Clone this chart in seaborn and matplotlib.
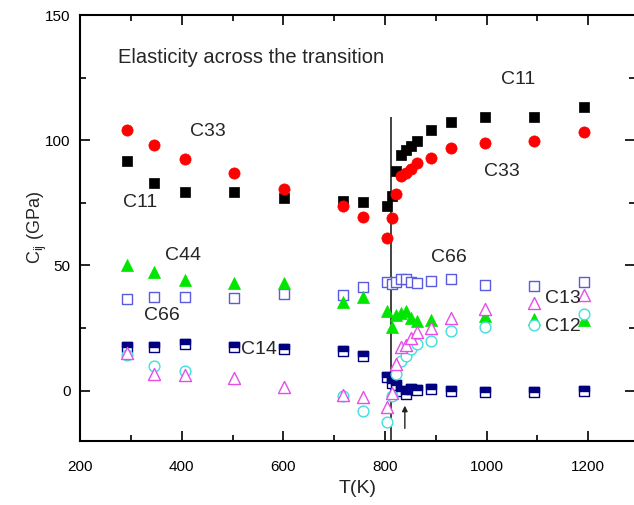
import numpy as np
import matplotlib
matplotlib.use("Agg")
import matplotlib.pyplot as plt
from matplotlib.markers import MarkerStyle
from matplotlib.ticker import MultipleLocator
import seaborn as sns

nan = np.nan

# temperatures (K) of the computed points
temps = [293, 345, 406, 503, 601, 717, 756, 804, 813, 822, 832, 842,
         852, 862, 891, 930, 997, 1093, 1192]

# elastic constants (GPa)
c11 = [91.8, 82.9, 79.5, 79.5, 77.0, 75.8, 75.3, 73.8, 77.8, 87.9, 93.9, 96.2,
       97.6, 99.6, 104.0, 107.4, 109.3, 109.3, 113.4]
c33 = [103.9, 98.2, 92.6, 86.9, 80.6, 73.9, 69.3, 61.1, 68.8, 78.5, 85.8, 87.1,
       88.7, 90.9, 92.7, 96.9, 99.0, 99.5, 103.4]
c44 = [50.3, 47.2, 44.0, 42.9, 42.9, 35.4, 37.5, 31.6, 25.5, 30.2, 31.0, 31.6,
       29.0, 27.9, 28.3, nan, 29.9, 28.6, 28.3]
c66 = [36.7, 37.5, 37.5, 37.0, 38.6, 38.0, 41.4, 43.4, 42.7, 43.4, 44.7, 44.7,
       43.4, 43.0, 43.6, 44.6, 42.0, 41.6, 43.2]
c14 = [17.4, 17.6, 18.5, 17.6, 16.6, 15.7, 13.7, 5.3, 3.1, 2.1, 0.0, -1.2,
       0.8, 0.1, 0.6, 0.0, -0.5, -0.5, 0.0]
c13 = [15.0, 6.8, 6.4, 5.1, 1.3, -1.9, -2.7, -6.7, -1.1, 10.6, 17.4, 18.4,
       21.0, 23.3, 24.9, 29.0, 32.4, 35.0, 38.3]
c12 = [14.4, 9.7, 8.0, nan, nan, -2.0, -8.3, -12.6, -2.3, 6.7, 11.7, 14.0,
       16.6, 18.6, 19.7, 23.7, 25.6, 26.3, 30.7]

# transition temperature and the arrowed point
t_trans = 812.6
t_arrow = 839

sns.set_theme(style="ticks")
plt.rcParams["font.family"] = ["Liberation Sans", "DejaVu Sans"]
plt.rcParams["mathtext.default"] = "regular"

fig = plt.figure(figsize=(6.34, 5.05), dpi=100)
ax = fig.add_axes([80.2 / 634, 64.3 / 505, (635 - 80.2) / 634, (440.7 - 15) / 505])

# filled markers
sns.scatterplot(x=temps, y=c11, marker="s", s=58, color="black", edgecolor="black",
                linewidth=0.5, ax=ax, zorder=3)
sns.scatterplot(x=temps, y=c33, marker="o", s=65, color="#ff0000", edgecolor="#ff0000",
                linewidth=0.5, ax=ax, zorder=3)
# open markers (white fill)
sns.scatterplot(x=temps, y=c66, marker="s", s=45, color="white", edgecolor="#5b5be0",
                linewidth=1.0, ax=ax, zorder=3)
sns.scatterplot(x=temps, y=c44, marker="^", s=75, color="#00e600", edgecolor="#00e600",
                linewidth=0.5, ax=ax, zorder=3)
sns.scatterplot(x=temps, y=c14, marker="s", s=45, color="white", edgecolor="#000080",
                linewidth=1.0, ax=ax, zorder=3)
sns.scatterplot(x=temps, y=c14, marker=MarkerStyle("s", fillstyle="top"), s=45,
                color="#000080", edgecolor="#000080", linewidth=1.0, ax=ax, zorder=3)
sns.scatterplot(x=temps, y=c12, marker="o", s=60, color="white", edgecolor="#40dede",
                linewidth=1.0, ax=ax, zorder=3)
sns.scatterplot(x=temps, y=c13, marker="^", s=75, color="white", edgecolor="#e84de8",
                linewidth=1.0, ax=ax, zorder=3)

ax.vlines(t_trans, -20, 109.3, color="#222222", linewidth=1.2, zorder=2)
ax.annotate("", xy=(t_arrow, -4.9), xytext=(t_arrow, -16.2),
            arrowprops=dict(arrowstyle="-|>", color="#222222", lw=1.0, mutation_scale=8))

# labels in the plot
ax.text(274.6, 132.9, "Elasticity across the transition", fontsize=14.5, ha="left", va="center")
ax.text(452, 103.5, "C33", fontsize=14, ha="center", va="center")
ax.text(318, 75.1, "C11", fontsize=14, ha="center", va="center")
ax.text(403, 53.9, "C44", fontsize=14, ha="center", va="center")
ax.text(360, 29.9, "C66", fontsize=14, ha="center", va="center")
ax.text(551, 16.6, "C14", fontsize=14, ha="center", va="center")
ax.text(1062, 124.1, "C11", fontsize=14, ha="center", va="center")
ax.text(1030, 87.5, "C33", fontsize=14, ha="center", va="center")
ax.text(925, 53.0, "C66", fontsize=14, ha="center", va="center")
ax.text(1150, 36.7, "C13", fontsize=14, ha="center", va="center")
ax.text(1151, 25.7, "C12", fontsize=14, ha="center", va="center")

ax.set_xlim(200, 1292)
ax.set_ylim(-20, 150)
ax.xaxis.set_major_locator(MultipleLocator(200))
ax.xaxis.set_minor_locator(MultipleLocator(100))
ax.yaxis.set_major_locator(MultipleLocator(50))
ax.yaxis.set_minor_locator(MultipleLocator(25))
ax.tick_params(which="both", direction="in", top=True, right=True, width=1.2,
               labelsize=11, colors="black")
ax.tick_params(which="major", length=7)
ax.tick_params(which="minor", length=4)
ax.tick_params(axis="x", which="major", pad=14)
ax.tick_params(axis="y", which="major", pad=7)
for side in ["left", "bottom", "top"]:
    ax.spines[side].set_linewidth(1.5)
    ax.spines[side].set_color("black")
ax.spines["right"].set_visible(False)

ax.set_xlabel("T(K)", fontsize=14, labelpad=4)
ax.set_ylabel(r"C$_{ij}$ (GPa)", fontsize=13, labelpad=-3)

fig.savefig("out.png", dpi=100)
